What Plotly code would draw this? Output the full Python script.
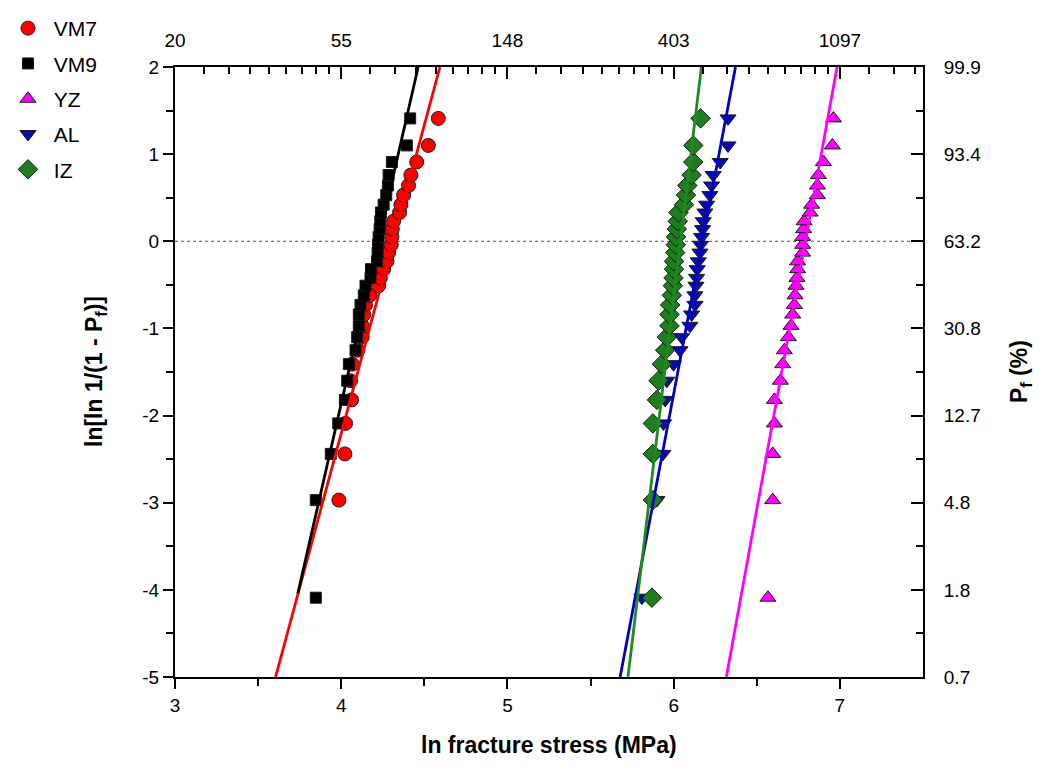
import numpy as np
import plotly.graph_objects as go

# ---- data ----
# Weibull probability positions ln(ln(1/(1-Pf))) shared by the 30-specimen sets
rank_y = [-4.09, -2.97, -2.44, -2.09, -1.82, -1.60, -1.41, -1.25, -1.10, -0.97,
          -0.84, -0.73, -0.62, -0.51, -0.42, -0.32, -0.23, -0.13, -0.04, 0.05,
          0.14, 0.23, 0.33, 0.42, 0.53, 0.64, 0.76, 0.91, 1.10, 1.41]

vm7_x = [3.986, 4.022, 4.026, 4.062, 4.056, 4.066, 4.100, 4.126, 4.126, 4.136,
         4.146, 4.171, 4.225, 4.235, 4.255, 4.275, 4.285, 4.301, 4.305, 4.307,
         4.315, 4.351, 4.359, 4.375, 4.405, 4.419, 4.454, 4.524, 4.584]
vm7_y = rank_y[1:]

vm9_x = [3.847, 3.847, 3.937, 3.982, 4.022, 4.036, 4.046, 4.086, 4.096, 4.106,
         4.106, 4.116, 4.136, 4.146, 4.176, 4.179, 4.215, 4.219, 4.221, 4.225,
         4.231, 4.235, 4.239, 4.255, 4.271, 4.281, 4.285, 4.305, 4.395, 4.415]
vm9_y = rank_y

yz_x = [6.567, 6.596, 6.596, 6.606, 6.606, 6.642, 6.656, 6.666, 6.690, 6.706,
        6.716, 6.726, 6.730, 6.736, 6.742, 6.746, 6.746, 6.776, 6.776, 6.776,
        6.782, 6.785, 6.821, 6.830, 6.865, 6.865, 6.871, 6.901, 6.955, 6.961]
yz_y = rank_y

al_x = [5.809, 5.899, 5.935, 5.939, 5.949, 5.959, 5.999, 6.038, 6.048, 6.098,
        6.108, 6.128, 6.128, 6.134, 6.138, 6.142, 6.148, 6.158, 6.162, 6.168,
        6.174, 6.178, 6.188, 6.198, 6.218, 6.228, 6.238, 6.280, 6.327, 6.327]
al_y = rank_y

iz_x = [5.869, 5.875, 5.875, 5.875, 5.899, 5.909, 5.929, 5.949, 5.959, 5.975,
        5.975, 5.979, 5.989, 5.995, 5.999, 6.002, 6.002, 6.009, 6.013, 6.014,
        6.019, 6.025, 6.029, 6.062, 6.074, 6.082, 6.108, 6.118, 6.118, 6.162]
iz_y = rank_y

# fitted Weibull lines (end points in data units)
vm7_fit_x = [3.605, 4.594]
vm7_fit_y = [-5.0, 2.0]
vm9_fit_x = [3.739, 4.463]
vm9_fit_y = [-4.04, 2.0]
yz_fit_x = [6.317, 6.983]
yz_fit_y = [-5.0, 2.0]
al_fit_x = [5.678, 6.372]
al_fit_y = [-5.0, 2.0]
iz_fit_x = [5.725, 6.170]
iz_fit_y = [-5.0, 2.05]

# tick labels
x_tick_vals = [3, 4, 5, 6, 7]
x_tick_labels = ["3", "4", "5", "6", "7"]
top_tick_labels = ["20", "55", "148", "403", "1097"]
y_tick_vals = [2, 1, 0, -1, -2, -3, -4, -5]
y_tick_labels = ["2", "1", "0", "-1", "-2", "-3", "-4", "-5"]
pf_tick_labels = ["99.9", "93.4", "63.2", "30.8", "12.7", "4.8", "1.8", "0.7"]

series = [
    ("VM7", vm7_x, vm7_y, vm7_fit_x, vm7_fit_y, "circle", 14, "#ff0000", "#ff0000"),
    ("VM9", vm9_x, vm9_y, vm9_fit_x, vm9_fit_y, "square", 11, "#000000", "#000000"),
    ("YZ", yz_x, yz_y, yz_fit_x, yz_fit_y, "triangle-up", 14, "#ff00ff", "#ff00ff"),
    ("AL", al_x, al_y, al_fit_x, al_fit_y, "triangle-down", 14, "#0a0ab0", "#0000c0"),
    ("IZ", iz_x, iz_y, iz_fit_x, iz_fit_y, "diamond", 15, "#1e7d1e", "#1f8a1f"),
]

FONT = "Liberation Sans, Arial, sans-serif"

fig = go.Figure()
for name, xs, ys, fx, fy, sym, size, fill, lc in series:
    fig.add_trace(go.Scatter(
        x=xs, y=ys, mode="markers", name="\u00a0" + name, legendgroup=name,
        marker=dict(symbol=sym, size=size, color=fill,
                    line=dict(color="#1a1a1a", width=1)),
    ))
for name, xs, ys, fx, fy, sym, size, fill, lc in series:
    fig.add_trace(go.Scatter(
        x=fx, y=fy, mode="lines", showlegend=False, legendgroup=name,
        line=dict(color=lc, width=2.8), hoverinfo="skip",
    ))

# dotted reference line at characteristic strength (63.2 %)
fig.add_shape(type="line", xref="x domain", x0=0, x1=1, yref="y", y0=0, y1=0,
              line=dict(color="#555555", width=1, dash="dot"), layer="below")

# minor ticks of the top (stress, MPa) axis: linear subdivisions between e^n
top_minor = []
for n in range(2, 8):
    vals = np.linspace(np.exp(n), np.exp(n + 1), 10)[1:-1]
    for v in np.log(vals):
        if 3.0 < v < 7.5:
            top_minor.append(float(v))

axis_common = dict(showgrid=False, zeroline=False, showline=True,
                   linecolor="black", linewidth=2, tickcolor="black",
                   tickwidth=2, tickfont=dict(family=FONT, size=19, color="black"))

half_ticks = [1.5, 0.5, -0.5, -1.5, -2.5, -3.5, -4.5]

fig.update_layout(
    width=1042, height=765,
    margin=dict(l=167, r=127, t=59, b=96),
    paper_bgcolor="white", plot_bgcolor="white",
    font=dict(family=FONT, color="black"),
    xaxis=dict(range=[3, 7.5], tickmode="array", tickvals=x_tick_vals,
               ticktext=x_tick_labels, ticks="outside", ticklen=10,
               minor=dict(tickvals=[3.5, 4.5, 5.5, 6.5], ticks="outside",
                          ticklen=7, tickwidth=2, tickcolor="black"),
               **axis_common),
    xaxis2=dict(range=[3, 7.5], overlaying="x", side="top", anchor="y",
                tickmode="array", tickvals=x_tick_vals, ticktext=top_tick_labels,
                ticks="inside", ticklen=12, ticklabelstandoff=10,
                minor=dict(tickvals=top_minor, ticks="inside", ticklen=7,
                           tickwidth=2, tickcolor="black"),
                **axis_common),
    yaxis=dict(range=[-5, 2], tickmode="array", tickvals=y_tick_vals,
               ticktext=y_tick_labels, ticks="outside", ticklen=10,
               minor=dict(tickvals=half_ticks, ticks="outside", ticklen=7,
                          tickwidth=2, tickcolor="black"),
               **axis_common),
    yaxis2=dict(range=[-5, 2], overlaying="y", side="right", anchor="x",
                tickmode="array", tickvals=y_tick_vals, ticktext=pf_tick_labels,
                ticks="inside", ticklen=12, ticklabelstandoff=15,
                minor=dict(tickvals=half_ticks, ticks="inside", ticklen=7,
                           tickwidth=2, tickcolor="black"),
                **axis_common),
    legend=dict(xref="container", yref="container", x=0, y=1,
                xanchor="left", yanchor="top", bgcolor="rgba(0,0,0,0)",
                font=dict(family=FONT, size=21, color="black"),
                tracegroupgap=5, itemwidth=30),
    showlegend=True,
)

# invisible anchor trace so the secondary axes are drawn
fig.add_trace(go.Scatter(x=[None], y=[None], xaxis="x2", yaxis="y2",
                         showlegend=False, hoverinfo="skip"))

fig.add_annotation(text="<b>ln fracture stress (MPa)</b>", xref="paper", yref="paper",
                   x=0.5, y=0, yshift=-68, yanchor="middle", showarrow=False,
                   font=dict(family=FONT, size=23, color="black"))
fig.add_annotation(text="<b>ln[ln 1/(1 - P<sub>f</sub>)]</b>", xref="paper", yref="paper",
                   x=0, y=0.5, xshift=-80, xanchor="center", showarrow=False,
                   textangle=-90, font=dict(family=FONT, size=23, color="black"))
fig.add_annotation(text="<b>P<sub>f</sub> (%)</b>", xref="paper", yref="paper",
                   x=1, y=0.5, xshift=97, xanchor="center", showarrow=False,
                   textangle=-90, font=dict(family=FONT, size=23, color="black"))

fig.write_html("out.html")
